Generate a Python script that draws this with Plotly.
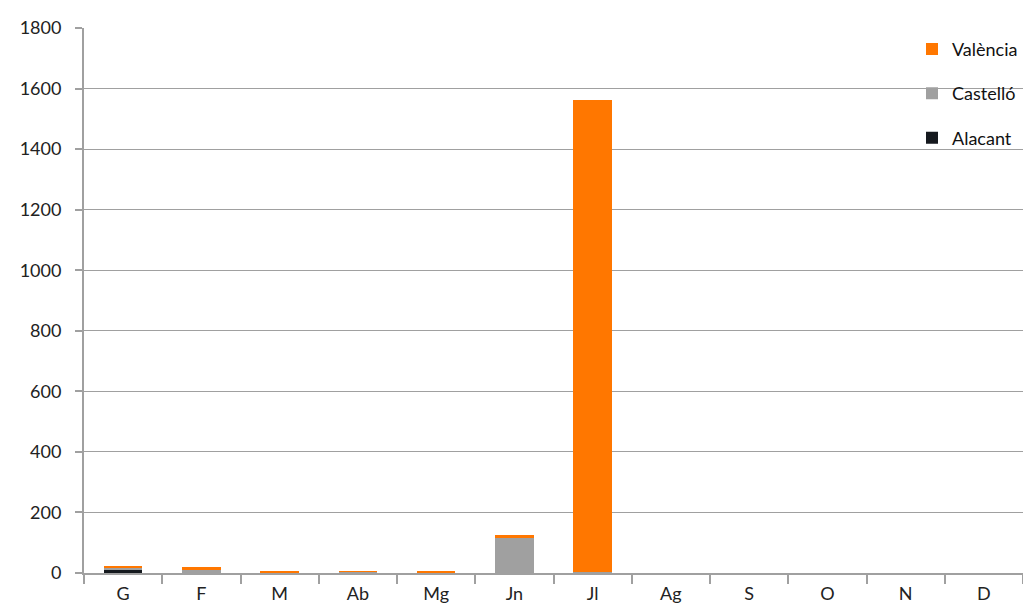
import plotly.graph_objects as go

months = ["G", "F", "M", "Ab", "Mg", "Jn", "Jl", "Ag", "S", "O", "N", "D"]
alacant = [12, 0, 0, 0, 0, 0, 0, 0, 0, 0, 0, 0]
castello = [3, 9, 2, 4, 2, 118, 3, 0, 0, 0, 0, 0]
valencia = [7, 10, 5, 0.5, 6, 6, 1558, 0, 0, 0, 0, 0]
y_ticks = [0, 200, 400, 600, 800, 1000, 1200, 1400, 1600, 1800]

fig = go.Figure()
fig.add_trace(go.Bar(name="Alacant", x=months, y=alacant, marker_color="#15191e",
                     marker_line_width=0, legendgroup="a", legendrank=3))
fig.add_trace(go.Bar(name="Castelló", x=months, y=castello, marker_color="#a0a0a0",
                     marker_line_width=0, legendgroup="c", legendrank=2))
fig.add_trace(go.Bar(name="València", x=months, y=valencia, marker_color="#ff7700",
                     marker_line_width=0, legendgroup="v", legendrank=1))

fig.update_layout(
    barmode="stack",
    bargap=0.51,
    width=1023, height=615,
    margin=dict(l=84, r=0, t=28, b=42, autoexpand=False),
    plot_bgcolor="white", paper_bgcolor="white",
    font=dict(family="Lato, Open Sans, sans-serif", size=18, color="#222222"),
    legend=dict(x=1, xanchor="right", y=0.995, yanchor="top",
                traceorder="grouped", tracegroupgap=18,
                bgcolor="rgba(0,0,0,0)", font=dict(size=18, color="#111111"),
                itemwidth=30),
    showlegend=True,
)
fig.update_xaxes(
    showline=True, linecolor="#a0a0a0", linewidth=2,
    ticks="outside", tickson="boundaries", ticklen=9, tickcolor="#a0a0a0", tickwidth=1.5,
    showgrid=False, tickfont=dict(size=18, color="#222222"), ticklabelstandoff=3,
)
fig.update_yaxes(
    range=[0, 1800], tickvals=y_ticks, showgrid=True, gridcolor="#a0a0a0", gridwidth=1.2,
    showline=True, linecolor="#a0a0a0", linewidth=2,
    ticks="outside", ticklen=7, tickcolor="#a0a0a0", tickwidth=1.5,
    tickfont=dict(size=18, color="#222222"), zeroline=False, ticklabelstandoff=10,
)

fig.write_html("out.html", config={"displayModeBar": False})

with open("out.html", "r", encoding="utf-8") as f:
    html = f.read()
html = html.replace("<head>", "<head><style>html,body{margin:0;padding:0;overflow:hidden;}</style>", 1)
with open("out.html", "w", encoding="utf-8") as f:
    f.write(html)
